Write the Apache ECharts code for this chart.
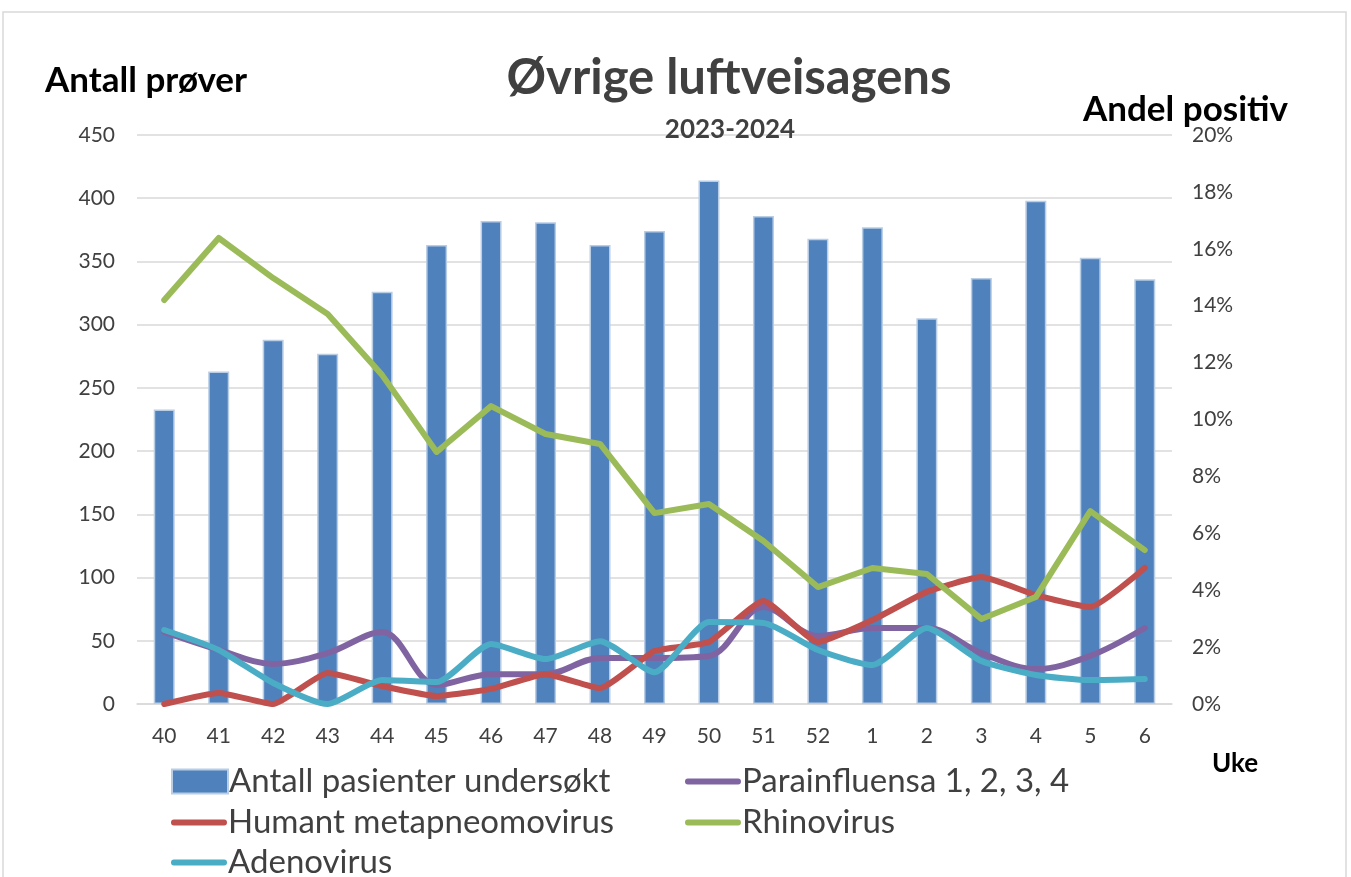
<!DOCTYPE html>
<html><head><meta charset="utf-8">
<script src="https://cdn.jsdelivr.net/npm/echarts@6/dist/echarts.min.js"></script>
<style>html,body{margin:0;padding:0;background:#fff}#c{width:1351px;height:877px}</style>
</head><body><div id="c"></div>
<script>
const weeks = ['40','41','42','43','44','45','46','47','48','49','50','51','52','1','2','3','4','5','6'];
const antallPasienter = [233,263,288,277,326,363,382,381,363,374,414,386,368,377,305,337,398,353,336];
const parainfluensa = [2.53,1.9,1.41,1.79,2.53,0.67,1.05,1.05,1.62,1.62,1.69,3.41,2.39,2.67,2.67,1.79,1.23,1.69,2.67];
const metapneumo = [0,0.39,0,1.09,0.63,0.28,0.53,1.05,0.56,1.86,2.18,3.62,2.18,2.95,3.94,4.46,3.83,3.41,4.78];
const rhinovirus = [14.2,16.38,14.97,13.71,11.56,8.86,10.47,9.49,9.14,6.71,7.03,5.73,4.11,4.78,4.57,2.99,3.76,6.78,5.41];
const adenovirus = [2.6,1.9,0.74,0,0.84,0.77,2.11,1.58,2.21,1.12,2.88,2.85,1.9,1.37,2.67,1.51,1.02,0.84,0.88];
const leftTicks = {min:0,max:450,interval:50};
const rightTicks = {min:0,max:20,interval:2};

const FONT = 'Lato, "Open Sans", sans-serif';
const chart = echarts.init(document.getElementById('c'), null, {renderer:'canvas'});
const lineIcon = 'path://M3,0 L55,0 A3,3 0 0 1 55,6 L3,6 A3,3 0 0 1 3,0 Z';
function leg(name, left, top, isBar){
  return {data:[{name:name, icon: isBar ? 'rect' : lineIcon}], left:left, top:top,
    itemWidth: 56, itemHeight: isBar ? 24 : 6, itemGap:0,
    textStyle:{fontSize:33, color:'#404040', fontFamily:FONT, padding:[0,0,0,-4]},
    selectedMode:false};
}
chart.setOption({
  backgroundColor:'#fff',
  graphic:[{type:'rect', shape:{x:3,y:12,width:1343,height:870}, style:{fill:'none', stroke:'#d9d9d9', lineWidth:1.5}, silent:true}],
  title:[
    {text:'Øvrige luftveisagens', left:724, textAlign:'center', top:49, textStyle:{fontSize:49, fontWeight:'bold', color:'#404040', fontFamily:FONT}},
    {text:'2023-2024', left:725, textAlign:'center', top:112, textStyle:{fontSize:26, fontWeight:'bold', color:'#404040', fontFamily:FONT}},
    {text:'Antall prøver', left:40, top:58, textStyle:{fontSize:35, fontWeight:'bold', color:'#000', fontFamily:FONT}},
    {text:'Andel positiv', left:1078, top:87, textStyle:{fontSize:35, fontWeight:'bold', color:'#000', fontFamily:FONT}},
    {text:'Uke', left:1207, top:746, textStyle:{fontSize:26, fontWeight:'bold', color:'#000', fontFamily:FONT}}
  ],
  legend:[
    leg('Antall pasienter undersøkt', 166, 760, true),
    leg('Parainfluensa 1, 2, 3, 4', 680, 760, false),
    leg('Humant metapneomovirus', 166, 801, false),
    leg('Rhinovirus', 680, 801, false),
    leg('Adenovirus', 166, 841, false)
  ],
  grid:{left:137, right:179, top:135, bottom:173},
  xAxis:{type:'category', data:weeks, boundaryGap:true,
    axisLine:{lineStyle:{color:'#d9d9d9', width:1.5}}, axisTick:{show:false},
    axisLabel:{fontSize:21, color:'#404040', fontFamily:FONT, margin:22}},
  yAxis:[
    {type:'value', min:leftTicks.min, max:leftTicks.max, interval:leftTicks.interval,
      axisLine:{show:false}, axisTick:{show:false},
      splitLine:{lineStyle:{color:'#d9d9d9', width:1.5}},
      axisLabel:{fontSize:21, color:'#404040', fontFamily:FONT, margin:22}},
    {type:'value', min:rightTicks.min, max:rightTicks.max, interval:rightTicks.interval,
      axisLine:{show:false}, axisTick:{show:false}, splitLine:{show:false},
      axisLabel:{fontSize:21, color:'#404040', fontFamily:FONT, margin:20, formatter:'{value}%'}}
  ],
  series:[
    {name:'Antall pasienter undersøkt', type:'bar', data:antallPasienter, yAxisIndex:0, barWidth:21,
      itemStyle:{color:'#4f81bd', borderColor:'#b9cde5', borderWidth:1.5}},
    {name:'Parainfluensa 1, 2, 3, 4', type:'line', data:parainfluensa, yAxisIndex:1, smooth:0.35, showSymbol:false,
      lineStyle:{color:'#8064a2', width:6, cap:'round', join:'round'}, itemStyle:{color:'#8064a2'}},
    {name:'Humant metapneomovirus', type:'line', data:metapneumo, yAxisIndex:1, smooth:0.15, showSymbol:false,
      lineStyle:{color:'#c0504d', width:6, cap:'round', join:'round'}, itemStyle:{color:'#c0504d'}},
    {name:'Rhinovirus', type:'line', data:rhinovirus, yAxisIndex:1, smooth:false, showSymbol:false,
      lineStyle:{color:'#9bbb59', width:6, cap:'round', join:'round'}, itemStyle:{color:'#9bbb59'}},
    {name:'Adenovirus', type:'line', data:adenovirus, yAxisIndex:1, smooth:0.2, showSymbol:false,
      lineStyle:{color:'#4bacc6', width:6, cap:'round', join:'round'}, itemStyle:{color:'#4bacc6'}}
  ]
});
</script></body></html>
